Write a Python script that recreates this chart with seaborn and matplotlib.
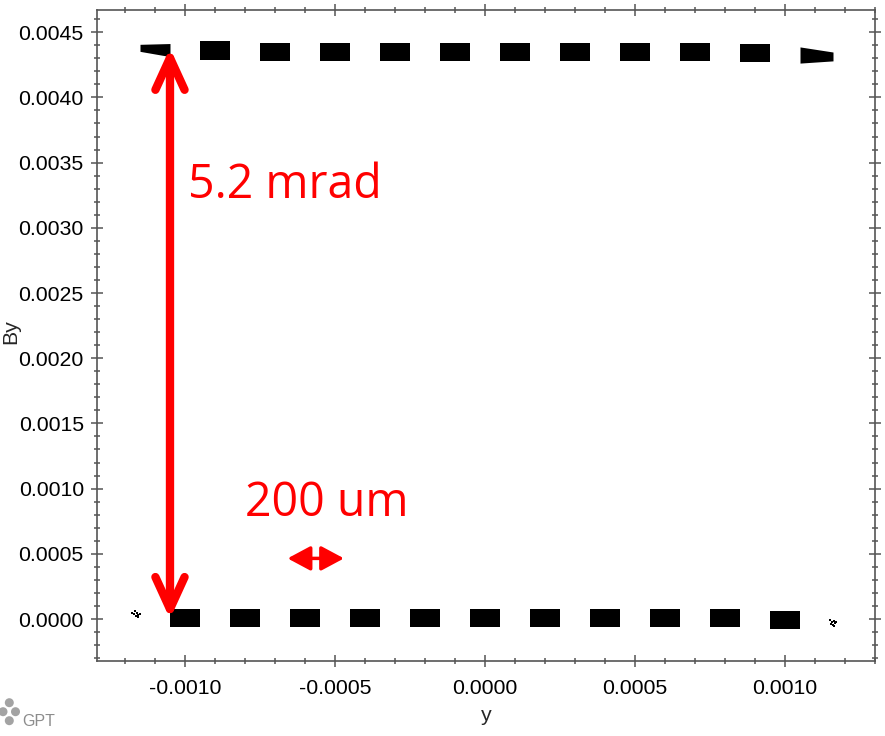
import numpy as np
import matplotlib
matplotlib.use("Agg")
import matplotlib.pyplot as plt
from matplotlib.patches import Circle
from matplotlib.ticker import MultipleLocator
import seaborn as sns

# Beamlet centres in y (m) and their mean divergence By (rad)
upper_x = [-0.0009, -0.0007, -0.0005, -0.0003, -0.0001, 0.0001, 0.0003, 0.0005, 0.0007, 0.0009]
upper_y = [0.00436, 0.00435, 0.00435, 0.00435, 0.00435, 0.00435, 0.00435, 0.00435, 0.00435, 0.00434]
lower_x = [-0.0010, -0.0008, -0.0006, -0.0004, -0.0002, 0.0000, 0.0002, 0.0004, 0.0006, 0.0008, 0.0010]
lower_y = [0.00001, 0.00001, 0.00001, 0.00001, 0.00001, 0.00001, 0.00001, 0.00001, 0.00001, 0.00001, -0.00001]
beamlet_width = 0.0001
beamlet_height = 0.00014

# Tapered beamlets at the two ends of the upper row
edge_x_outer = [-0.00115, 0.00116]
edge_x_inner = [-0.00105, 0.00105]
edge_y_outer = [0.00438, 0.004314]
edge_y_inner = [0.004363, 0.004325]
edge_half_outer = [0.000027, 0.000034]
edge_half_inner = [0.00005, 0.000062]

# Stray particles beside the lower row
stray_x = [-0.001175, -0.001168, -0.001160, -0.001155, -0.001163, -0.001150, -0.001170, -0.001158,
           0.001150, 0.001157, 0.001162, 0.001168, 0.001160, 0.001165, 0.001155, 0.001170]
stray_y = [0.000050, 0.000060, 0.000045, 0.000030, 0.000025, 0.000040, 0.000035, 0.000015,
           -0.000010, -0.000025, -0.000015, -0.000030, -0.000045, -0.000055, -0.000035, -0.000020]

# Axis ticks
x_ticks = [-0.0010, -0.0005, 0.0000, 0.0005, 0.0010]
x_tick_labels = ["-0.0010", "-0.0005", "0.0000", "0.0005", "0.0010"]
y_ticks = [0.0000, 0.0005, 0.0010, 0.0015, 0.0020, 0.0025, 0.0030, 0.0035, 0.0040, 0.0045]
y_tick_labels = ["0.0000", "0.0005", "0.0010", "0.0015", "0.0020",
                 "0.0025", "0.0030", "0.0035", "0.0040", "0.0045"]

# Annotations
span_x, span_bottom, span_top = -0.00105, 0.0, 0.00438
span_label = "5.2 mrad"
pitch_left, pitch_right, pitch_y = -0.000658, -0.000470, 0.000465
pitch_label = "200 um"

sns.set_style("ticks")
plt.rcParams["font.family"] = ["Liberation Sans", "DejaVu Sans"]

W, H = 885, 736
fig = plt.figure(figsize=(W / 100, H / 100), dpi=100)
fig.patch.set_facecolor("white")
ax = fig.add_axes([97 / W, 1 - 660.5 / H, (875 - 97) / W, (660.5 - 9.5) / H])
ax.set_facecolor("white")

# beamlets
ax.bar(upper_x, beamlet_height, width=beamlet_width,
       bottom=np.array(upper_y) - beamlet_height / 2, color="black", linewidth=0)
ax.bar(lower_x, beamlet_height, width=beamlet_width,
       bottom=np.array(lower_y) - beamlet_height / 2, color="black", linewidth=0)
for xo, xi, yo, yi, ho, hi in zip(edge_x_outer, edge_x_inner, edge_y_outer,
                                  edge_y_inner, edge_half_outer, edge_half_inner):
    xs = np.array([xo, xi])
    lo = np.array([yo - ho, yi - hi])
    hi_ = np.array([yo + ho, yi + hi])
    order = np.argsort(xs)
    ax.fill_between(xs[order], lo[order], hi_[order], color="black", linewidth=0)
sns.scatterplot(x=stray_x, y=stray_y, ax=ax, marker="s", s=2.5, color="black",
                linewidth=0, legend=False)

ax.set_xlim(-0.0012933, 0.0013)
ax.set_ylim(-0.000318, 0.004674)

ax.set_xticks(x_ticks, x_tick_labels)
ax.set_yticks(y_ticks, y_tick_labels)
ax.xaxis.set_minor_locator(MultipleLocator(0.0001))
ax.yaxis.set_minor_locator(MultipleLocator(0.0001))

spine_col = "#555555"
for s in ax.spines.values():
    s.set_visible(True)
    s.set_color(spine_col)
    s.set_linewidth(1.2)
ax.tick_params(which="both", direction="inout", top=True, right=True,
               color=spine_col, width=1.1, labelsize=15.3, labelcolor="black")
ax.tick_params(which="major", length=8)
ax.tick_params(which="minor", length=4)
ax.tick_params(axis="y", pad=5.5)
ax.tick_params(axis="x", pad=9)
ax.set_xlabel("y", fontsize=15.3, labelpad=6)
ax.set_ylabel("")

fig.text(1.5 / W, 1 - 332 / H, "By", rotation=90, ha="left", va="center", fontsize=15.3)

# annotations
red = "#ff0000"
ax.annotate("", xy=(span_x, span_top), xytext=(span_x, span_bottom),
            arrowprops=dict(arrowstyle="<->,head_length=2.3,head_width=1.05",
                            lw=6, color=red, shrinkA=0, shrinkB=0, mutation_scale=10),
            zorder=5)
ax.annotate("", xy=(pitch_right, pitch_y), xytext=(pitch_left, pitch_y),
            arrowprops=dict(arrowstyle="<|-|>,head_length=1.4,head_width=0.75",
                            lw=2.5, color=red, shrinkA=0, shrinkB=0, mutation_scale=10),
            zorder=5)
ax.text(-0.00099, 0.003228, span_label, fontsize=33.5, color=red,
        family=["Open Sans", "DejaVu Sans"], ha="left", va="baseline", zorder=6)
ax.text(-0.000799, 0.000792, pitch_label, fontsize=33.5, color=red,
        family=["Open Sans", "DejaVu Sans"], ha="left", va="baseline", zorder=6)

# GPT logo
for cx, cy in [(9.3, 702.7), (15.5, 711.7), (9.3, 720.7), (3.0, 711.7)]:
    fig.add_artist(Circle((cx / 100, (H - cy) / 100), 4.5 / 100,
                          transform=fig.dpi_scale_trans, color="#a3a3a3", lw=0))
fig.text(22 / W, 1 - 725.5 / H, "GPT", fontsize=11.5, color="#8c8c8c",
         ha="left", va="baseline")

fig.savefig("out.png", dpi=100)
